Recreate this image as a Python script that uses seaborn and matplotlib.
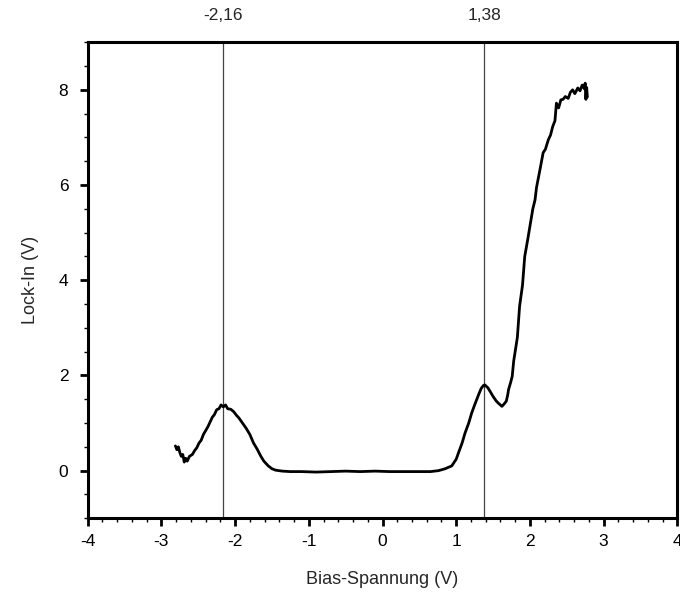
import matplotlib
matplotlib.use("Agg")
import matplotlib.pyplot as plt
from matplotlib.ticker import MultipleLocator
import numpy as np
import pandas as pd
import seaborn as sns

# Lock-in signal vs. bias voltage
bias = [-2.81, -2.79, -2.77, -2.75, -2.73, -2.71, -2.69, -2.67, -2.65, -2.62, -2.58,
        -2.55, -2.52, -2.49, -2.46, -2.43, -2.40, -2.37, -2.34, -2.31, -2.28, -2.25,
        -2.22, -2.19, -2.16, -2.13, -2.10, -2.06, -2.02, -1.98, -1.95, -1.90, -1.85,
        -1.80, -1.75, -1.70, -1.65, -1.61, -1.55, -1.50, -1.45, -1.36, -1.25, -1.10,
        -0.90, -0.70, -0.50, -0.30, -0.10, 0.10, 0.30, 0.50, 0.65, 0.76, 0.85, 0.94,
        1.00, 1.03, 1.08, 1.12, 1.17, 1.21, 1.25, 1.28, 1.31, 1.34, 1.37, 1.39, 1.41,
        1.43, 1.47, 1.50, 1.54, 1.57, 1.60, 1.62, 1.65, 1.68, 1.70, 1.71, 1.74, 1.76,
        1.78, 1.80, 1.83, 1.86, 1.90, 1.93, 1.97, 2.00, 2.04, 2.07, 2.09, 2.11, 2.14,
        2.18, 2.21, 2.25, 2.28, 2.31, 2.34, 2.36, 2.39, 2.42, 2.45, 2.48, 2.52, 2.55,
        2.58, 2.61, 2.65, 2.68, 2.71, 2.74, 2.75, 2.76, 2.77, 2.78]
lockin = [0.52, 0.44, 0.50, 0.38, 0.30, 0.34, 0.18, 0.26, 0.20, 0.30, 0.34,
          0.42, 0.48, 0.58, 0.64, 0.76, 0.84, 0.92, 1.02, 1.12, 1.18, 1.28,
          1.30, 1.38, 1.34, 1.38, 1.30, 1.29, 1.24, 1.16, 1.11, 1.00, 0.89,
          0.76, 0.58, 0.45, 0.30, 0.20, 0.10, 0.04, 0.01, -0.01, -0.02, -0.02,
          -0.03, -0.02, -0.01, -0.02, -0.01, -0.02, -0.02, -0.02, -0.02, 0.00, 0.04, 0.10,
          0.24, 0.37, 0.58, 0.79, 1.00, 1.21, 1.38, 1.50, 1.62, 1.73, 1.79, 1.80, 1.77,
          1.74, 1.64, 1.56, 1.47, 1.42, 1.38, 1.35, 1.40, 1.46, 1.60, 1.70, 1.86, 1.98,
          2.30, 2.50, 2.80, 3.45, 3.90, 4.50, 4.85, 5.13, 5.50, 5.69, 5.95, 6.11, 6.35,
          6.68, 6.75, 6.95, 7.05, 7.23, 7.35, 7.72, 7.62, 7.79, 7.80, 7.86, 7.82, 7.95,
          8.00, 7.92, 8.04, 7.98, 8.10, 8.02, 8.14, 7.80, 8.05, 7.85]

# Peak positions marked on the top axis
peak_pos = [-2.16, 1.38]
peak_labels = ["-2,16", "1,38"]

x_ticks = [-4, -3, -2, -1, 0, 1, 2, 3, 4]
y_ticks = [0, 2, 4, 6, 8]

sns.set_theme(style="ticks")
plt.rcParams["font.family"] = ["Liberation Sans", "DejaVu Sans"]
plt.rcParams["axes.unicode_minus"] = False

fig = plt.figure(figsize=(6.8, 5.95), dpi=100)
ax = fig.add_axes([0.129, 0.129, 0.867, 0.800])

df = pd.DataFrame({"bias": bias, "lockin": lockin})
sns.lineplot(data=df, x="bias", y="lockin", ax=ax, color="black",
             linewidth=2.0, sort=False, estimator=None)

for p in peak_pos:
    ax.axvline(p, color="#444444", linewidth=0.9, zorder=1)

ax.set_xlim(-4, 4)
ax.set_ylim(-1, 9)
ax.set_xticks(x_ticks)
ax.set_yticks(y_ticks)
ax.xaxis.set_minor_locator(MultipleLocator(0.2))
ax.yaxis.set_minor_locator(MultipleLocator(0.5))
ax.tick_params(axis="both", which="major", direction="out", length=6, width=2,
               labelsize=12.5, color="black", labelcolor="black")
ax.tick_params(axis="x", which="major", pad=5)
ax.tick_params(axis="y", which="major", pad=8)
ax.tick_params(axis="both", which="minor", direction="out", length=3, width=1,
               color="black")

ax.set_xlabel("Bias-Spannung (V)", fontsize=13, labelpad=16)
ax.set_ylabel("Lock-In (V)", fontsize=13, labelpad=14)

for side in ["left", "right", "top", "bottom"]:
    ax.spines[side].set_visible(True)
    ax.spines[side].set_linewidth(2.2)
    ax.spines[side].set_color("black")

top = ax.secondary_xaxis("top")
top.set_xticks(peak_pos)
top.set_xticklabels(peak_labels)
top.tick_params(axis="x", length=0, labelsize=12.5, pad=14)
top.spines["top"].set_visible(False)

fig.savefig("out.png", dpi=100, facecolor="white")
